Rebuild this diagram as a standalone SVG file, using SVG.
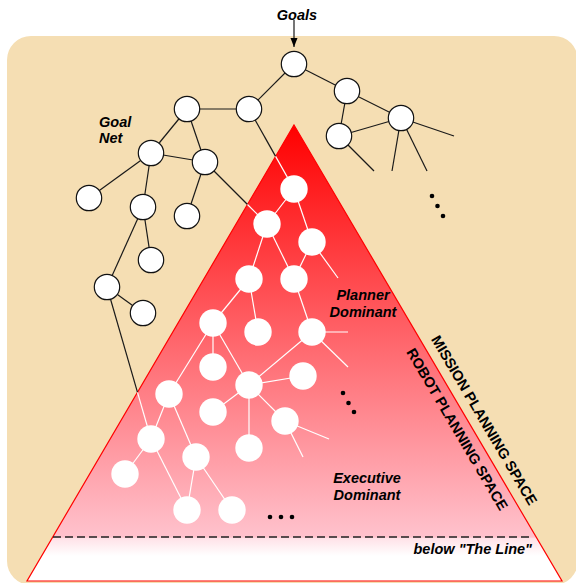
<svg xmlns="http://www.w3.org/2000/svg" width="576" height="583" viewBox="0 0 576 583">
<style>
.gn{fill:#fff;stroke:#111;stroke-width:1.2}
.tn{fill:#fff}
.bl{stroke:#1a1a1a;stroke-width:1.2;fill:none}
.wl{stroke:#fff;stroke-width:1.2;fill:none}
.lbl{font-family:"Liberation Sans",Arial,sans-serif;font-weight:bold;font-style:italic;font-size:14.5px;fill:#000}
.side{font-family:"Liberation Sans",Arial,sans-serif;font-weight:bold;font-size:14.5px;fill:#000}
.dot{fill:#000}
</style>
<defs>
<linearGradient id="tri" gradientUnits="userSpaceOnUse" x1="0" y1="125" x2="0" y2="581">
<stop offset="0" stop-color="#ff0000"/>
<stop offset="0.9035" stop-color="#ffc2cd"/>
<stop offset="0.907" stop-color="#ffe2e8"/>
<stop offset="0.945" stop-color="#ffffff"/>
<stop offset="1" stop-color="#ffffff"/>
</linearGradient>
<marker id="arr" markerUnits="userSpaceOnUse" markerWidth="9" markerHeight="8" refX="9" refY="3.5" orient="auto">
<path d="M0,0 L9,3.5 L0,7 z" fill="#000"/>
</marker>
</defs>

<rect x="7" y="36" width="571" height="549" rx="24" fill="#f5deb3"/>
<path d="M294,125 L562,581 L27,581 Z" fill="url(#tri)" stroke="#ff0000" stroke-width="1.2"/>
<line x1="53" y1="537" x2="533" y2="537" stroke="#222" stroke-width="1.5" stroke-dasharray="8,4"/>

<g id="connectors">
<line class="bl" x1="294" y1="20" x2="294" y2="47" marker-end="url(#arr)"/>
<line class="bl" x1="294" y1="64" x2="347" y2="91"/>
<line class="bl" x1="294" y1="64" x2="249" y2="109"/>
<line class="bl" x1="249" y1="109" x2="187" y2="109"/>
<line class="bl" x1="347" y1="91" x2="401" y2="118"/>
<line class="bl" x1="347" y1="91" x2="339" y2="136"/>
<line class="bl" x1="339" y1="136" x2="401" y2="118"/>
<line class="bl" x1="401" y1="118" x2="454" y2="136"/>
<line class="bl" x1="401" y1="118" x2="392" y2="171"/>
<line class="bl" x1="401" y1="118" x2="427" y2="171"/>
<line class="bl" x1="339" y1="136" x2="374" y2="171"/>
<line class="bl" x1="187" y1="109" x2="151" y2="153"/>
<line class="bl" x1="187" y1="109" x2="205" y2="162"/>
<line class="bl" x1="151" y1="153" x2="205" y2="162"/>
<line class="bl" x1="151" y1="153" x2="89" y2="198"/>
<line class="bl" x1="151" y1="153" x2="143" y2="207"/>
<line class="bl" x1="205" y1="162" x2="187" y2="216"/>
<line class="bl" x1="143" y1="207" x2="151" y2="260"/>
<line class="bl" x1="143" y1="207" x2="107" y2="287"/>
<line class="bl" x1="107" y1="287" x2="143" y2="313"/>
<line class="bl" x1="249" y1="109" x2="275.6" y2="156.4"/>
<line class="bl" x1="205" y1="162" x2="247.5" y2="204.5"/>
<line class="bl" x1="107" y1="287" x2="137.5" y2="392.3"/>
<line class="wl" x1="275.6" y1="156.4" x2="294" y2="189"/>
<line class="wl" x1="247.5" y1="204.5" x2="267" y2="224"/>
<line class="wl" x1="137.5" y1="392.3" x2="151" y2="439"/>
<line class="wl" x1="294" y1="189" x2="267" y2="224"/>
<line class="wl" x1="294" y1="189" x2="312" y2="242"/>
<line class="wl" x1="267" y1="224" x2="249" y2="279"/>
<line class="wl" x1="267" y1="224" x2="294" y2="279"/>
<line class="wl" x1="312" y1="242" x2="294" y2="279"/>
<line class="wl" x1="312" y1="242" x2="338" y2="278"/>
<line class="wl" x1="249" y1="279" x2="213" y2="323"/>
<line class="wl" x1="249" y1="279" x2="258" y2="332"/>
<line class="wl" x1="294" y1="279" x2="312" y2="332"/>
<line class="wl" x1="312" y1="332" x2="348" y2="332"/>
<line class="wl" x1="312" y1="332" x2="348" y2="367"/>
<line class="wl" x1="312" y1="332" x2="249" y2="385"/>
<line class="wl" x1="213" y1="323" x2="213" y2="367"/>
<line class="wl" x1="213" y1="323" x2="249" y2="385"/>
<line class="wl" x1="213" y1="323" x2="169" y2="394"/>
<line class="wl" x1="249" y1="385" x2="303" y2="376"/>
<line class="wl" x1="249" y1="385" x2="213" y2="412"/>
<line class="wl" x1="249" y1="385" x2="249" y2="448"/>
<line class="wl" x1="249" y1="385" x2="285" y2="421"/>
<line class="wl" x1="285" y1="421" x2="329" y2="439"/>
<line class="wl" x1="285" y1="421" x2="303" y2="457"/>
<line class="wl" x1="169" y1="394" x2="151" y2="439"/>
<line class="wl" x1="169" y1="394" x2="196" y2="457"/>
<line class="wl" x1="151" y1="439" x2="125" y2="474"/>
<line class="wl" x1="151" y1="439" x2="187" y2="510"/>
<line class="wl" x1="196" y1="457" x2="187" y2="510"/>
<line class="wl" x1="196" y1="457" x2="232" y2="510"/>
</g>

<g id="g-top"><circle class="gn" cx="294" cy="64" r="12.7"/></g>
<g id="g-r1"><circle class="gn" cx="347" cy="91" r="12.7"/></g>
<g id="g-r2"><circle class="gn" cx="401" cy="118" r="12.7"/></g>
<g id="g-r3"><circle class="gn" cx="339" cy="136" r="12.7"/></g>
<g id="g-a2"><circle class="gn" cx="249" cy="109" r="12.7"/></g>
<g id="g-a"><circle class="gn" cx="187" cy="109" r="12.7"/></g>
<g id="g-b"><circle class="gn" cx="151" cy="153" r="12.7"/></g>
<g id="g-c"><circle class="gn" cx="205" cy="162" r="12.7"/></g>
<g id="g-d"><circle class="gn" cx="89" cy="198" r="12.7"/></g>
<g id="g-e"><circle class="gn" cx="143" cy="207" r="12.7"/></g>
<g id="g-f"><circle class="gn" cx="187" cy="216" r="12.7"/></g>
<g id="g-g"><circle class="gn" cx="151" cy="260" r="12.7"/></g>
<g id="g-h"><circle class="gn" cx="107" cy="287" r="12.7"/></g>
<g id="g-i"><circle class="gn" cx="143" cy="313" r="12.7"/></g>

<g id="t-n1"><circle class="tn" cx="294" cy="189" r="13.7"/></g>
<g id="t-n2"><circle class="tn" cx="267" cy="224" r="13.7"/></g>
<g id="t-n3"><circle class="tn" cx="312" cy="242" r="13.7"/></g>
<g id="t-n4"><circle class="tn" cx="249" cy="279" r="13.7"/></g>
<g id="t-n5"><circle class="tn" cx="294" cy="279" r="13.7"/></g>
<g id="t-p1"><circle class="tn" cx="213" cy="323" r="13.7"/></g>
<g id="t-p2"><circle class="tn" cx="258" cy="332" r="13.7"/></g>
<g id="t-p3"><circle class="tn" cx="312" cy="332" r="13.7"/></g>
<g id="t-p4"><circle class="tn" cx="213" cy="367" r="13.7"/></g>
<g id="t-p5"><circle class="tn" cx="249" cy="385" r="13.7"/></g>
<g id="t-p6"><circle class="tn" cx="303" cy="376" r="13.7"/></g>
<g id="t-p7"><circle class="tn" cx="169" cy="394" r="13.7"/></g>
<g id="t-p8"><circle class="tn" cx="213" cy="412" r="13.7"/></g>
<g id="t-p9"><circle class="tn" cx="285" cy="421" r="13.7"/></g>
<g id="t-m"><circle class="tn" cx="151" cy="439" r="13.7"/></g>
<g id="t-p10"><circle class="tn" cx="196" cy="457" r="13.7"/></g>
<g id="t-p11"><circle class="tn" cx="249" cy="448" r="13.7"/></g>
<g id="t-p12"><circle class="tn" cx="125" cy="474" r="13.7"/></g>
<g id="t-p13"><circle class="tn" cx="187" cy="510" r="13.7"/></g>
<g id="t-p14"><circle class="tn" cx="232" cy="510" r="13.7"/></g>

<g id="dots">
<circle class="dot" cx="432" cy="196" r="2.3"/>
<circle class="dot" cx="437.5" cy="206" r="2.3"/>
<circle class="dot" cx="443" cy="216" r="2.3"/>
<circle class="dot" cx="343" cy="393" r="2.3"/>
<circle class="dot" cx="348.5" cy="403" r="2.3"/>
<circle class="dot" cx="354" cy="412" r="2.3"/>
<circle class="dot" cx="270" cy="517" r="2.3"/>
<circle class="dot" cx="281" cy="517" r="2.3"/>
<circle class="dot" cx="292" cy="517" r="2.3"/>
</g>

<g id="labels">
<text class="lbl" x="297" y="20" text-anchor="middle">Goals</text>
<text class="lbl" x="99" y="127">Goal</text>
<text class="lbl" x="99" y="143">Net</text>
<text class="lbl" x="363" y="300" text-anchor="middle">Planner</text>
<text class="lbl" x="363" y="317" text-anchor="middle">Dominant</text>
<text class="lbl" x="367" y="483" text-anchor="middle">Executive</text>
<text class="lbl" x="367" y="500" text-anchor="middle">Dominant</text>
<text class="lbl" x="532" y="554" text-anchor="end">below "The Line"</text>
<g transform="translate(294,125) rotate(59.56)">
<text class="side" x="351" y="-9.4" text-anchor="middle">MISSION PLANNING SPACE</text>
<text class="side" x="345" y="18.4" text-anchor="middle">ROBOT PLANNING SPACE</text>
</g>
</g>
</svg>
